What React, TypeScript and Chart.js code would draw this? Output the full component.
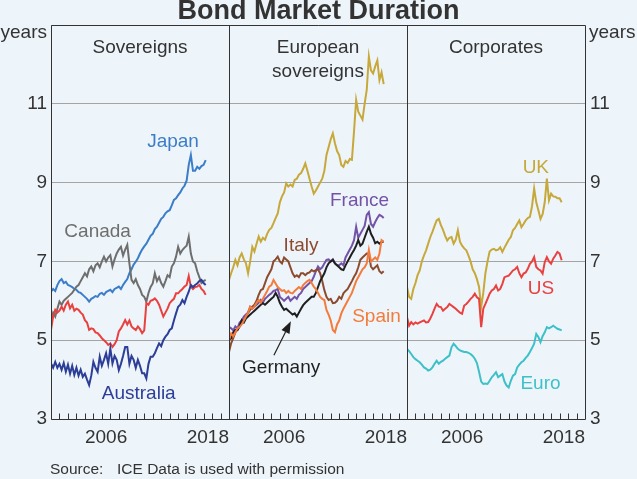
import React, { useEffect, useRef } from 'react';
import { Chart, registerables } from 'chart.js';

Chart.register(...registerables);

// ---------- data (quarterly observations, first = 2000 Q1) ----------
const START_YEAR = 2000;
const STEP = 0.25;
const X_MIN = 2000;
const X_MAX = 2021;
const Y_MIN = 3;
const Y_MAX = 13;
const Y_STEP = 2;
const yTickLabels = ['3', '5', '7', '9', '11'];
const xTickLabels = [2006, 2018];

// Sovereigns
const japan = [
  6.23, 6.3, 6.25, 6.4,
  6.5, 6.55, 6.45, 6.48,
  6.4, 6.38, 6.35, 6.3,
  6.28, 6.22, 6.2, 6.15,
  6.1, 6.05, 5.98, 6.05,
  6.08, 6.12, 6.1, 6.18,
  6.2, 6.15, 6.22, 6.25,
  6.28, 6.22, 6.3, 6.33,
  6.36, 6.3, 6.4, 6.48,
  6.55, 6.7, 6.8, 6.92,
  6.99, 7.08, 7.2, 7.3,
  7.38, 7.45, 7.55, 7.65,
  7.7, 7.82, 7.88, 7.98,
  8.08, 8.13, 8.22, 8.27,
  8.3, 8.42, 8.56, 8.6,
  8.68, 8.75, 8.85, 8.92,
  9.05, 9.45, 9.7, 9.3,
  9.3, 9.4, 9.35, 9.42,
  9.45, 9.57,
];
const canada = [
  5.51, 5.7, 5.6, 5.8,
  5.98, 5.9, 6.0, 6.05,
  6.1, 6.15, 6.2, 6.28,
  6.36, 6.4, 6.5, 6.6,
  6.7, 6.62, 6.8, 6.87,
  6.75, 6.9, 6.95, 6.85,
  7.0, 7.12, 7.0, 7.1,
  7.16, 6.87, 7.05, 7.2,
  7.3, 7.37, 7.15, 7.3,
  7.42, 6.95, 6.53, 6.45,
  6.55, 6.4, 6.3, 6.15,
  6.1, 5.98, 6.2, 6.35,
  6.44, 6.7, 6.5, 6.6,
  6.45, 6.36, 6.5, 6.65,
  6.6, 6.87, 6.95, 7.12,
  7.37, 7.2, 7.29, 7.35,
  7.4, 7.63, 7.2, 7.0,
  6.95, 6.75, 6.6, 6.45,
  6.5, 6.53,
];
const usSovereign = [
  5.26, 5.6, 5.77, 5.7,
  5.75, 5.85, 5.75, 5.9,
  5.98, 5.81, 5.9, 5.75,
  5.8, 5.77, 5.7, 5.65,
  5.51, 5.45, 5.26, 5.3,
  5.28, 5.2, 5.18, 5.12,
  5.05, 5.0, 4.95, 4.88,
  4.92, 4.83, 4.9, 5.0,
  5.22, 5.3, 5.4, 5.51,
  5.4, 5.5, 5.35, 5.3,
  5.26, 5.35, 5.28, 5.18,
  5.25, 5.94, 5.9, 6.0,
  6.02, 6.06, 6.0, 5.9,
  5.75, 5.6, 5.7, 5.8,
  5.94, 6.0, 6.05, 6.19,
  6.19, 6.25, 6.3, 6.36,
  6.4, 6.63, 6.36, 6.3,
  6.35, 6.36, 6.4, 6.3,
  6.25, 6.15,
];
const australia = [
  4.41, 4.3, 4.45, 4.3,
  4.4, 4.25, 4.42, 4.2,
  4.38, 4.15, 4.35, 4.12,
  4.3, 4.1, 4.25, 4.07,
  4.15, 4.0, 3.86, 4.1,
  4.45, 4.3, 4.2, 4.58,
  4.35, 4.5, 4.67, 4.4,
  4.79, 4.41, 4.6, 4.5,
  4.24, 4.4, 4.6, 4.83,
  4.83, 4.4, 4.6, 4.5,
  4.3, 4.5, 4.35, 4.16,
  4.16, 4.03, 4.4, 4.58,
  4.58, 4.67, 4.8, 4.92,
  4.85, 5.0, 5.09, 5.15,
  5.26, 5.3, 5.5, 5.68,
  5.85, 5.9, 6.02, 5.94,
  6.1, 6.23, 6.4, 6.35,
  6.4, 6.44, 6.5, 6.53,
  6.45, 6.4,
];

// European sovereigns
const ukSovereign = [
  6.53, 6.7, 6.85, 7.04,
  6.9, 7.1, 7.2, 7.05,
  6.95, 6.7, 7.0, 7.37,
  7.25, 7.45, 7.63, 7.5,
  7.6, 7.55, 7.7, 7.8,
  7.85, 7.97, 8.1, 8.22,
  8.5, 8.65, 8.75, 8.98,
  8.9, 8.95, 8.9, 9.07,
  9.1, 9.2, 9.24, 9.35,
  9.49, 9.3, 9.1, 8.9,
  8.72, 8.8, 8.9, 9.0,
  9.1, 9.3, 9.7, 9.9,
  10.1, 10.25, 10.0, 9.8,
  9.7, 9.45, 9.4, 9.55,
  9.5, 9.6, 9.58, 10.3,
  11.1, 10.8, 10.7, 10.6,
  11.0, 11.35, 12.2, 11.85,
  11.77, 11.95, 12.1, 11.6,
  11.8, 11.5,
];
const france = [
  5.34, 5.3, 5.25, 5.35,
  5.3, 5.45, 5.5, 5.6,
  5.65, 5.7, 5.85, 5.8,
  5.85, 5.9, 5.95, 6.02,
  5.95, 6.05, 6.1, 6.15,
  6.19, 6.25, 6.27, 6.3,
  6.1, 6.05, 6.0, 6.05,
  6.1, 6.0, 6.05, 6.1,
  6.05, 6.15, 6.2, 6.3,
  6.35, 6.4, 6.45, 6.5,
  6.61, 6.75, 6.87, 6.8,
  6.85, 6.95, 7.04, 7.05,
  7.0, 7.05, 6.95, 6.9,
  6.9, 6.95, 6.9, 7.1,
  7.2, 7.3, 7.4, 7.54,
  7.88, 7.6, 7.7, 7.8,
  7.9, 8.18, 8.25, 7.95,
  7.88, 8.0, 8.1, 8.18,
  8.15, 8.1,
];
const italy = [
  4.7, 4.92, 5.05, 5.2,
  5.26, 5.35, 5.45, 5.51,
  5.6, 5.7, 5.77, 5.85,
  5.9, 6.0, 6.15, 6.27,
  6.3, 6.45, 6.6, 6.7,
  6.8, 7.0, 7.05, 7.12,
  7.0, 6.95, 7.1, 7.05,
  7.0, 6.85, 6.7, 6.61,
  6.65, 6.6, 6.7, 6.7,
  6.65, 6.7, 6.72, 6.78,
  6.75, 6.78, 6.8, 6.7,
  6.5, 6.27, 6.1, 6.02,
  6.05, 5.94, 5.95, 6.0,
  6.1, 6.05, 6.19, 6.25,
  6.3, 6.4, 6.5, 6.61,
  6.7, 6.85, 7.04, 7.1,
  7.15, 7.2, 7.2, 6.87,
  6.8, 6.85, 6.9, 6.75,
  6.7, 6.75,
];
const germany = [
  5.0, 5.05, 5.2, 5.26,
  5.26, 5.35, 5.51, 5.45,
  5.55, 5.6, 5.65, 5.7,
  5.75, 5.8, 5.85, 5.9,
  5.94, 5.9, 5.95, 6.0,
  6.05, 6.1, 6.2, 6.1,
  5.95, 5.85, 5.77, 5.8,
  5.75, 5.7, 5.65, 5.68,
  5.6, 5.7, 5.8, 5.89,
  5.95, 6.0, 6.05, 6.1,
  6.1, 6.2, 6.35, 6.5,
  6.6, 6.7, 6.85, 6.95,
  7.0, 7.04, 6.95, 6.9,
  6.85, 6.8, 6.78, 6.9,
  7.0, 7.1, 7.2, 7.29,
  7.4, 7.54, 7.4, 7.45,
  7.6, 7.75, 7.88, 7.7,
  7.6, 7.46, 7.5, 7.45,
  7.5, 7.5,
];
const spain = [
  5.0, 5.17, 5.1, 5.2,
  5.3, 5.34, 5.4, 5.5,
  5.6, 5.7, 5.85, 5.8,
  5.85, 5.95, 6.02, 5.95,
  6.05, 6.15, 6.25, 6.36,
  6.4, 6.53, 6.44, 6.35,
  6.3, 6.25, 6.27, 6.2,
  6.25, 6.2, 6.19, 6.25,
  6.3, 6.35, 6.3, 6.4,
  6.45, 6.5, 6.53, 6.45,
  6.36, 6.3, 6.2, 6.1,
  6.05, 6.02, 5.77, 5.65,
  5.5, 5.26, 5.2, 5.4,
  5.5, 5.68, 5.8, 5.9,
  6.0, 6.1, 6.2, 6.35,
  6.5, 6.6, 6.7, 6.8,
  6.85, 6.95, 7.29, 7.0,
  7.05, 7.1, 7.04, 7.2,
  7.54, 7.5,
];

// Corporates
const ukCorporate = [
  6.35, 6.1, 6.05, 6.3,
  6.45, 6.65, 6.77, 7.0,
  7.15, 7.28, 7.45, 7.62,
  7.75, 7.9, 8.04, 8.08,
  7.92, 7.8, 7.65, 7.53,
  7.6, 7.62, 7.45, 7.55,
  7.79, 7.5, 7.4, 7.33,
  7.28, 7.15, 7.0, 6.8,
  6.7, 6.55, 6.35, 5.84,
  6.2, 6.7, 7.0, 7.25,
  7.3, 7.32, 7.28, 7.3,
  7.36, 7.24, 7.35, 7.45,
  7.55, 7.62, 7.79, 7.85,
  7.95, 8.04, 7.87, 7.95,
  8.04, 8.1, 8.13, 8.4,
  8.85, 8.5, 8.3, 8.08,
  8.2, 8.5, 9.1, 8.55,
  8.72, 8.65, 8.64, 8.6,
  8.6, 8.5,
];
const usCorporate = [
  5.58, 5.37, 5.46, 5.4,
  5.45, 5.42, 5.45, 5.48,
  5.5, 5.45, 5.46, 5.55,
  5.67, 5.8, 5.92, 5.85,
  5.84, 5.75, 5.8, 5.84,
  5.92, 5.88, 5.84, 5.8,
  5.75, 5.7, 5.67, 5.88,
  5.92, 5.98, 6.05, 6.1,
  6.18, 6.09, 6.05, 5.33,
  5.8, 5.92, 6.05, 6.18,
  6.26, 6.3, 6.39, 6.26,
  6.3, 6.43, 6.6, 6.62,
  6.64, 6.7, 6.77, 6.8,
  6.86, 6.7, 6.6, 6.69,
  6.72, 6.81, 6.94, 7.0,
  7.11, 6.86, 6.8, 6.77,
  6.69, 6.98, 7.11, 7.0,
  6.94, 7.07, 7.15, 7.24,
  7.2, 7.03,
];
const euroCorporate = [
  4.78, 4.72, 4.65, 4.57,
  4.52, 4.48, 4.44, 4.38,
  4.31, 4.28, 4.23, 4.25,
  4.31, 4.4, 4.48, 4.4,
  4.45, 4.48, 4.53, 4.57,
  4.61, 4.82, 4.91, 4.85,
  4.78, 4.74, 4.72, 4.7,
  4.7, 4.68, 4.65, 4.6,
  4.53, 4.42, 4.2, 3.95,
  3.89, 3.9, 3.89, 3.97,
  4.06, 4.12, 4.19, 4.06,
  4.1, 4.14, 3.95, 3.85,
  3.8, 3.97, 4.1, 4.14,
  4.31, 4.38, 4.44, 4.48,
  4.55, 4.61, 4.7, 4.8,
  4.91, 5.16, 5.08, 4.95,
  5.1, 5.2, 5.33, 5.3,
  5.33, 5.37, 5.33, 5.29,
  5.27, 5.25,
];

// ---------- styles ----------
const FONT = 'Arial, "Liberation Sans", Helvetica, sans-serif';
const BG = '#eef5fa';
const TEXT = '#333333';
const GRID = '#a4a4a4';
const AXIS = '#333333';
const C = {
  japan: '#3b7dc8',
  canada: '#6e6e6e',
  red: '#e8413f',
  australia: '#2c3e97',
  gold: '#c6a83b',
  france: '#7352a8',
  italy: '#8c4b2f',
  germany: '#1f1f1f',
  spain: '#f47b3b',
  euro: '#3ec0c8',
};

const panels = [
  { axis: 'xSov', title: ['Sovereigns'] },
  { axis: 'xEur', title: ['European', 'sovereigns'] },
  { axis: 'xCorp', title: ['Corporates'] },
];

// first entry is drawn on top
const seriesDefs = [
  { name: 'Australia', axis: 'xSov', values: australia, color: C.australia },
  { name: 'US', axis: 'xSov', values: usSovereign, color: C.red },
  { name: 'Canada', axis: 'xSov', values: canada, color: C.canada },
  { name: 'Japan', axis: 'xSov', values: japan, color: C.japan },
  { name: 'Spain', axis: 'xEur', values: spain, color: C.spain },
  { name: 'Germany', axis: 'xEur', values: germany, color: C.germany },
  { name: 'Italy', axis: 'xEur', values: italy, color: C.italy },
  { name: 'France', axis: 'xEur', values: france, color: C.france },
  { name: 'UK', axis: 'xEur', values: ukSovereign, color: C.gold },
  { name: 'Euro', axis: 'xCorp', values: euroCorporate, color: C.euro },
  { name: 'US', axis: 'xCorp', values: usCorporate, color: C.red },
  { name: 'UK', axis: 'xCorp', values: ukCorporate, color: C.gold },
];

// series label anchors (data coordinates of the text centre)
const labelSpots = [
  { text: 'Japan', axis: 'xSov', x: 2014.4, y: 10.03, color: C.japan },
  { text: 'Canada', axis: 'xSov', x: 2005.5, y: 7.75, color: C.canada },
  { text: 'Australia', axis: 'xSov', x: 2010.35, y: 3.63, color: C.australia },
  { text: 'France', axis: 'xEur', x: 2015.4, y: 8.53, color: C.france },
  { text: 'Italy', axis: 'xEur', x: 2008.5, y: 7.4, color: C.italy },
  { text: 'Spain', axis: 'xEur', x: 2017.4, y: 5.59, color: C.spain },
  { text: 'Germany', axis: 'xEur', x: 2006.15, y: 4.31, color: C.germany },
  { text: 'UK', axis: 'xCorp', x: 2015.2, y: 9.38, color: C.gold },
  { text: 'US', axis: 'xCorp', x: 2015.8, y: 6.3, color: C.red },
  { text: 'Euro', axis: 'xCorp', x: 2015.75, y: 3.9, color: C.euro },
];
const arrowSpot = { axis: 'xEur', from: [2005.3, 4.62], to: [2007.3, 5.48] };

// ---------- chart ----------
const decorPlugin = {
  id: 'decor',
  afterDatasetsDraw(chart: any) {
    const { ctx, chartArea, scales } = chart;
    const crisp = (v: number) => Math.round(v) + 0.5;
    ctx.save();
    ctx.strokeStyle = AXIS;
    ctx.lineWidth = 1;
    const l = crisp(chartArea.left), r = crisp(chartArea.right);
    const t = crisp(chartArea.top), b = crisp(chartArea.bottom);
    ctx.beginPath();
    ctx.rect(l, t, r - l, b - t);
    panels.slice(1).forEach((p) => {
      const x = crisp(scales[p.axis].left);
      ctx.moveTo(x, t);
      ctx.lineTo(x, b);
    });
    panels.forEach((p) => {
      const s = scales[p.axis];
      for (let yr = X_MIN + 1; yr < X_MAX; yr++) {
        const x = crisp(s.getPixelForValue(yr));
        ctx.moveTo(x, b);
        ctx.lineTo(x, b - 6);
      }
    });
    ctx.stroke();

    // Germany arrow
    const s = scales[arrowSpot.axis];
    const y = scales.y;
    const x0 = s.getPixelForValue(arrowSpot.from[0]);
    const y0 = y.getPixelForValue(arrowSpot.from[1]);
    const x1 = s.getPixelForValue(arrowSpot.to[0]);
    const y1 = y.getPixelForValue(arrowSpot.to[1]);
    const ang = Math.atan2(y1 - y0, x1 - x0);
    const hl = 12, hw = 4.5;
    const bx = x1 - hl * Math.cos(ang), by = y1 - hl * Math.sin(ang);
    ctx.strokeStyle = C.germany;
    ctx.fillStyle = C.germany;
    ctx.lineWidth = 1.2;
    ctx.beginPath();
    ctx.moveTo(x0, y0);
    ctx.lineTo(bx, by);
    ctx.stroke();
    ctx.beginPath();
    ctx.moveTo(x1, y1);
    ctx.lineTo(bx + hw * Math.sin(ang), by - hw * Math.cos(ang));
    ctx.lineTo(bx - hw * Math.sin(ang), by + hw * Math.cos(ang));
    ctx.closePath();
    ctx.fill();
    ctx.restore();
  },
  afterDraw(chart: any) {
    const { ctx, chartArea, scales } = chart;
    ctx.save();
    ctx.fillStyle = TEXT;
    // title
    ctx.font = `bold 27px ${FONT}`;
    ctx.textAlign = 'center';
    ctx.textBaseline = 'alphabetic';
    ctx.fillText('Bond Market Duration', chart.width / 2, 19);
    // units
    ctx.font = `19px ${FONT}`;
    ctx.textAlign = 'right';
    ctx.fillText('years', scales.y.right - 4, chartArea.top + 13);
    ctx.textAlign = 'left';
    ctx.fillText('years', scales.yRight.left + 4, chartArea.top + 13);
    // panel titles
    ctx.textAlign = 'center';
    panels.forEach((p) => {
      const s = scales[p.axis];
      const cx = (s.left + s.right) / 2;
      p.title.forEach((line, i) => ctx.fillText(line, cx, chartArea.top + 28 + i * 24));
    });
    // series labels
    ctx.textBaseline = 'middle';
    labelSpots.forEach((lab) => {
      ctx.fillStyle = lab.color;
      ctx.fillText(lab.text, scales[lab.axis].getPixelForValue(lab.x), scales.y.getPixelForValue(lab.y));
    });
    // source
    ctx.fillStyle = TEXT;
    ctx.font = `15.5px ${FONT}`;
    ctx.textAlign = 'left';
    ctx.fillText('Source:', 50, 470);
    ctx.fillText('ICE Data is used with permission', 117, 470);
    ctx.restore();
  },
};

function xAxis() {
  return {
    type: 'linear',
    position: 'bottom',
    stack: 'panels',
    stackWeight: 1,
    min: X_MIN,
    max: X_MAX,
    grid: { display: false, drawTicks: false },
    border: { display: false },
    ticks: {
      autoSkip: false,
      maxRotation: 0,
      minRotation: 0,
      padding: 7,
      color: TEXT,
      font: { size: 19 },
      callback: (v: number) => String(Math.floor(v)),
    },
    afterBuildTicks: (s: any) => {
      s.ticks = xTickLabels.map((yr) => ({ value: yr + 0.5 }));
    },
    afterFit: (s: any) => {
      s.height = 60;
    },
  };
}

function yAxis(position: 'left' | 'right', width: number, gridOn: boolean, padding: number) {
  return {
    position,
    min: Y_MIN,
    max: Y_MAX,
    grid: gridOn ? { color: GRID, lineWidth: 1, drawTicks: false } : { display: false, drawTicks: false },
    border: { display: false },
    ticks: {
      stepSize: Y_STEP,
      padding,
      color: TEXT,
      font: { size: 19 },
      callback: (v: number) => (yTickLabels.includes(String(v)) ? String(v) : ''),
    },
    afterFit: (s: any) => {
      s.width = width;
    },
  };
}

export default function App() {
  const ref = useRef<HTMLCanvasElement>(null);
  useEffect(() => {
    if (!ref.current) return;
    Chart.defaults.font.family = FONT;
    const datasets = seriesDefs.map((d) => ({
      label: d.name,
      xAxisID: d.axis,
      yAxisID: 'y',
      data: d.values.map((v, i) => ({ x: START_YEAR + i * STEP, y: v })),
      borderColor: d.color,
      backgroundColor: d.color,
      borderWidth: 2,
      pointRadius: 0,
      tension: 0,
      fill: false,
    }));
    const chart = new Chart(ref.current, {
      type: 'line',
      data: { datasets },
      options: {
        responsive: false,
        animation: false,
        events: [],
        layout: { padding: { top: 25, left: 0, right: 0, bottom: 0 } },
        plugins: { legend: { display: false }, tooltip: { enabled: false }, title: { display: false } },
        scales: {
          xSov: xAxis(),
          xEur: xAxis(),
          xCorp: xAxis(),
          y: yAxis('left', 51, true, 4),
          yRight: yAxis('right', 52, false, 5),
        },
      } as any,
      plugins: [decorPlugin],
    } as any);
    return () => chart.destroy();
  }, []);
  return (
    <div style={{ position: 'fixed', left: 0, top: 0, width: 637, height: 479, background: BG }}>
      <canvas ref={ref} width={637} height={479} style={{ display: 'block' }} />
    </div>
  );
}
